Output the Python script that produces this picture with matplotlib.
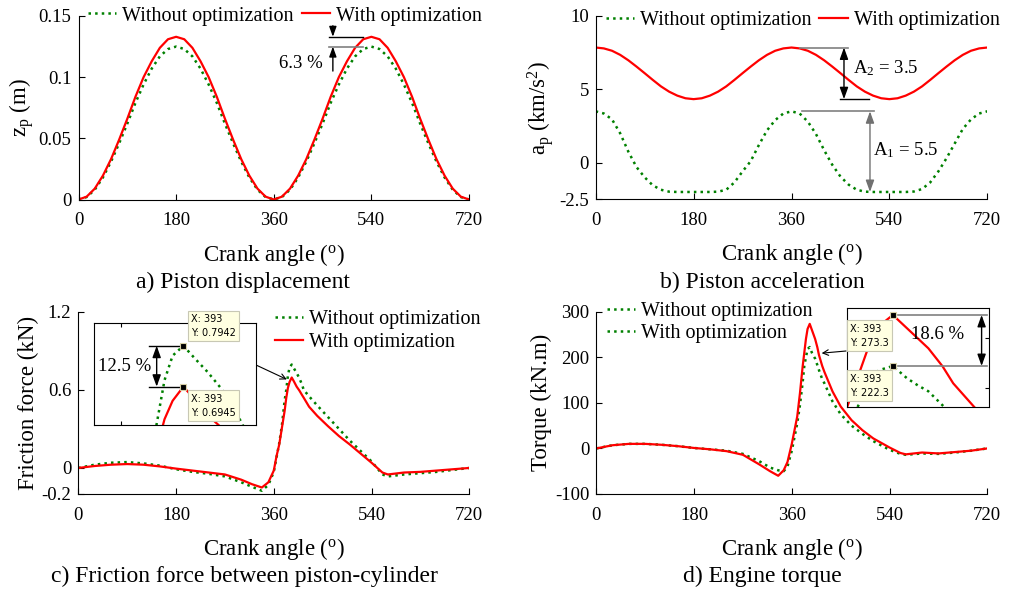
import numpy as np
import matplotlib
matplotlib.use("Agg")
import matplotlib.pyplot as plt

plt.rcParams['font.family'] = ['Liberation Serif', 'DejaVu Serif']
plt.rcParams['mathtext.fontset'] = 'custom'
plt.rcParams['mathtext.rm'] = 'Liberation Serif'
plt.rcParams['mathtext.it'] = 'Liberation Serif:italic'

RED = '#ff0000'
GREEN = '#008000'

# ---- a) piston displacement (m), every 15 deg over 0..360 ----
disp_angle = [0, 15, 30, 45, 60, 75, 90, 105, 120, 135, 150, 165, 180,
              195, 210, 225, 240, 255, 270, 285, 300, 315, 330, 345, 360,
              375, 390, 405, 420, 435, 450, 465, 480, 495, 510, 525, 540,
              555, 570, 585, 600, 615, 630, 645, 660, 675, 690, 705, 720]
disp_without = [0, 0.002, 0.008, 0.018, 0.031, 0.046, 0.062, 0.079, 0.094, 0.107, 0.117, 0.123, 0.125,
                0.123, 0.117, 0.107, 0.094, 0.079, 0.062, 0.046, 0.031, 0.018, 0.008, 0.002, 0,
                0.002, 0.008, 0.018, 0.031, 0.046, 0.062, 0.079, 0.094, 0.107, 0.117, 0.123, 0.125,
                0.123, 0.117, 0.107, 0.094, 0.079, 0.062, 0.046, 0.031, 0.018, 0.008, 0.002, 0]
disp_with = [0, 0.0023, 0.0089, 0.0195, 0.033, 0.049, 0.066, 0.084, 0.100, 0.113, 0.124, 0.131, 0.133,
             0.131, 0.124, 0.113, 0.100, 0.084, 0.066, 0.049, 0.033, 0.0195, 0.0089, 0.0023, 0,
             0.0023, 0.0089, 0.0195, 0.033, 0.049, 0.066, 0.084, 0.100, 0.113, 0.124, 0.131, 0.133,
             0.131, 0.124, 0.113, 0.100, 0.084, 0.066, 0.049, 0.033, 0.0195, 0.0089, 0.0023, 0]

# ---- b) piston acceleration (km/s^2) ----
acc_angle = disp_angle
acc_without = [3.5, 3.35, 2.95, 2.0, 0.75, -0.3, -1.0, -1.55, -1.85, -1.98, -2.0, -2.0, -2.0,
               -2.0, -2.0, -1.98, -1.85, -1.35, -0.6, 0.1, 1.2, 2.2, 2.9, 3.35, 3.5,
               3.35, 2.8, 1.95, 0.85, -0.15, -0.95, -1.5, -1.85, -1.98, -2.0, -2.0, -2.0,
               -2.0, -2.0, -1.97, -1.8, -1.35, -0.6, 0.3, 1.3, 2.3, 2.95, 3.35, 3.5]
acc_with = [7.85, 7.79, 7.63, 7.35, 6.98, 6.55, 6.1, 5.64, 5.2, 4.84, 4.57, 4.39, 4.33,
            4.39, 4.57, 4.84, 5.2, 5.64, 6.1, 6.55, 6.98, 7.35, 7.63, 7.79, 7.85,
            7.79, 7.63, 7.35, 6.98, 6.55, 6.1, 5.64, 5.2, 4.84, 4.57, 4.39, 4.33,
            4.39, 4.57, 4.84, 5.2, 5.64, 6.1, 6.55, 6.98, 7.35, 7.63, 7.79, 7.85]

# ---- c) friction force (kN) ----
fric_angle = [0, 30, 60, 90, 120, 150, 180, 210, 240, 270, 300, 320, 338, 350, 360, 365, 370, 375,
              380, 383, 386, 389, 393, 397, 402, 407, 412, 415, 425, 440, 460, 480, 500, 520, 540,
              560, 570, 600, 630, 660, 690, 720]
fric_without = [0.0, 0.025, 0.04, 0.045, 0.035, 0.018, -0.01, -0.03, -0.045, -0.065, -0.11, -0.145,
                -0.175, -0.13, -0.03, 0.08, 0.19, 0.33, 0.52, 0.60, 0.71, 0.77, 0.7942, 0.765, 0.73,
                0.69, 0.64, 0.60, 0.55, 0.48, 0.39, 0.30, 0.21, 0.13, 0.05, -0.05, -0.065, -0.05,
                -0.04, -0.03, -0.015, 0.0]
fric_with = [0.0, 0.015, 0.025, 0.03, 0.025, 0.012, -0.005, -0.02, -0.035, -0.05, -0.09, -0.125,
             -0.15, -0.11, -0.02, 0.09, 0.18, 0.31, 0.44, 0.54, 0.615, 0.66, 0.6945, 0.665, 0.625,
             0.595, 0.56, 0.54, 0.47, 0.40, 0.32, 0.245, 0.18, 0.11, 0.04, -0.035, -0.05, -0.035,
             -0.03, -0.02, -0.01, 0.0]

# ---- d) engine torque (kN.m) ----
torq_angle = [0, 30, 60, 90, 120, 150, 180, 210, 240, 270, 300, 320, 335, 345, 352, 360, 370, 375,
              380, 383, 386, 389, 393, 397, 400, 403, 407, 410, 416, 420, 435, 450, 470, 490, 510,
              540, 560, 570, 600, 630, 660, 690, 720]
torq_without = [0, 7, 10, 10, 8, 5, 1, -2, -5, -12, -28, -42, -48, -50, -40, -5, 55, 95,
                145, 181, 200, 218, 222.3, 210, 203, 197, 183, 172, 152, 143, 103, 75, 50, 32, 16,
                -3, -12, -14, -11, -12, -9, -5, 0]
torq_with = [0, 7, 10, 10, 8, 5, 1, -2, -6, -14, -35, -50, -60, -48, -30, 10, 70, 121,
             180, 210, 240, 262, 273.3, 260, 250, 240, 222, 205, 181, 168, 125, 92, 62, 40, 22,
             2, -10, -13, -9, -11, -8, -5, 0]

xticks = [0, 180, 360, 540, 720]
labels = ['Without optimization', 'With optimization']

W, H = 1011, 593
fig = plt.figure(figsize=(W / 100, H / 100), dpi=100)


def px_axes(x0, y0, x1, y1):
    # pixel box (left, top, right, bottom) -> figure axes
    return fig.add_axes([x0 / W, 1 - y1 / H, (x1 - x0) / W, (y1 - y0) / H])


def style(ax, yticks, ylabels, ylim):
    ax.set_xlim(0, 720)
    ax.set_ylim(*ylim)
    ax.set_xticks(xticks)
    ax.set_xticklabels([str(t) for t in xticks])
    ax.set_yticks(yticks)
    ax.set_yticklabels(ylabels)
    ax.spines['top'].set_visible(False)
    ax.spines['right'].set_visible(False)
    ax.tick_params(direction='in', length=4, labelsize=13.5, pad=5)
    ax.tick_params(axis='x', pad=9)
    ax.set_xlabel(r'Crank angle ($^{\rm o}$)', fontsize=16.5, labelpad=9)


def darrow(ax, x, y0, y1, color='black'):
    ax.annotate('', xy=(x, y1), xytext=(x, y0),
                arrowprops=dict(arrowstyle='<|-|>,head_length=0.5,head_width=0.18',
                                color=color, lw=1, shrinkA=0, shrinkB=0, mutation_scale=14))


def datatip(x, y, text):
    fig.text(x / W, 1 - y / H, text, fontsize=7, family='DejaVu Sans', va='center', ha='left',
             linespacing=1.5,
             bbox=dict(boxstyle='square,pad=0.35', fc='#ffffe1', ec='#c8c8b4', lw=0.8))


leg_kw = dict(frameon=False, fontsize=14.5, handlelength=1.4, handletextpad=0.3,
              borderpad=0, borderaxespad=0, columnspacing=0.4)

# ---------------- a ----------------
ax = px_axes(78.5, 16, 469, 199.5)
ax.plot(disp_angle, disp_without, ':', color=GREEN, lw=1.8, label=labels[0])
ax.plot(disp_angle, disp_with, '-', color=RED, lw=1.6, label=labels[1])
style(ax, [0, 0.05, 0.1, 0.15], ['0', '0.05', '0.1', '0.15'], (0, 0.15))
ax.set_ylabel(r'z$_{\rm p}$ (m)', fontsize=16.5, labelpad=2)
ax.legend(loc='center left', bbox_to_anchor=(0.024, 1.0), ncol=2, **leg_kw)
top, low = max(disp_with), max(disp_without)
ax.plot([462, 524], [top, top], color='black', lw=1)
ax.plot([462, 524], [low, low], color='#808080', lw=1.2)
ax.annotate('', xy=(469, top), xytext=(469, 0.142),
            arrowprops=dict(arrowstyle='-|>,head_length=0.5,head_width=0.18', color='black', lw=1,
                            shrinkA=0, shrinkB=0, mutation_scale=12))
ax.annotate('', xy=(469, low), xytext=(469, 0.105),
            arrowprops=dict(arrowstyle='-|>,head_length=0.5,head_width=0.18', color='black', lw=1,
                            shrinkA=0, shrinkB=0, mutation_scale=12))
ax.text(450, 0.111, '6.3 %', fontsize=13.5, ha='right', va='center')

# ---------------- b ----------------
ax = px_axes(595.7, 16, 987.3, 199.3)
ax.plot(acc_angle, acc_without, ':', color=GREEN, lw=1.8, label=labels[0])
ax.plot(acc_angle, acc_with, '-', color=RED, lw=1.6, label=labels[1])
style(ax, [-2.5, 0, 5, 10], ['-2.5', '0', '5', '10'], (-2.5, 10))
ax.set_ylabel(r'a$_{\rm p}$ (km/s$^{\rm 2}$)', fontsize=16.5, labelpad=2)
ax.legend(loc='center left', bbox_to_anchor=(0.0255, 0.978), ncol=2, **leg_kw)
rmax, rmin = max(acc_with), min(acc_with)
gmax, gmin = max(acc_without), min(acc_without)
ax.plot([376, 464], [rmax, rmax], color='#808080', lw=1.2)
ax.plot([449, 503], [rmin, rmin], color='black', lw=1)
darrow(ax, 456.5, rmax, rmin)
ax.text(473, 6.45, r'A$_{\rm 2}$ = 3.5', fontsize=13.5, va='center')
ax.plot([379, 512], [gmax, gmax], color='#808080', lw=1.2)
darrow(ax, 504.3, gmax, gmin, color='#707070')
ax.text(510, 0.85, r'A$_{\rm 1}$ = 5.5', fontsize=13.5, va='center')

# ---------------- c ----------------
axc = px_axes(78.3, 311.7, 469.3, 494)
axc.plot(fric_angle, fric_without, ':', color=GREEN, lw=1.8, label=labels[0])
axc.plot(fric_angle, fric_with, '-', color=RED, lw=1.6, label=labels[1])
style(axc, [-0.2, 0, 0.6, 1.2], ['-0.2', '0', '0.6', '1.2'], (-0.2, 1.2))
axc.set_ylabel('Friction force (kN)', fontsize=16.5, labelpad=2)
axc.legend(loc='center left', bbox_to_anchor=(0.503, 0.895), ncol=1, labelspacing=0.2,
           **leg_kw)
axc.annotate('', xy=(384, 0.68), xytext=(256 / W, 1 - 365 / H), textcoords='figure fraction',
             arrowprops=dict(arrowstyle='->', color='black', lw=0.8, shrinkA=0, shrinkB=0))

ins = px_axes(94.3, 323.3, 256.3, 425)
ins.plot(fric_angle, fric_without, ':', color=GREEN, lw=1.8)
ins.plot(fric_angle, fric_with, '-', color=RED, lw=1.6)
ins.set_xlim(360, 420)
ins.set_ylim(0.601, 0.849)
ins.set_xticks([370])
ins.set_yticks([])
ins.tick_params(direction='in', length=3, labelbottom=False, top=True)
i_g = fric_without.index(max(fric_without))
i_r = fric_with.index(max(fric_with))
gx, gy = fric_angle[i_g], fric_without[i_g]
rx, ry = fric_angle[i_r], fric_with[i_r]
ins.plot([380.3, gx], [gy, gy], color='black', lw=1)
ins.plot([380.3, rx], [ry, ry], color='black', lw=1)
darrow(ins, 383.1, gy, ry)
ins.text(371.4, 0.743, '12.5 %', fontsize=13.5, ha='center', va='center')
ins.plot([gx, rx], [gy, ry], 's', color='black', ms=5, mec='#d8d0a8', mew=0.8)
datatip(191, 326, 'X: %d\nY: %.4f' % (gx, gy))
datatip(191, 405.8, 'X: %d\nY: %.4f' % (rx, ry))

# ---------------- d ----------------
axd = px_axes(596.3, 311.7, 987.3, 494)
axd.plot(torq_angle, torq_without, ':', color=GREEN, lw=1.8, label=labels[0])
axd.plot(torq_angle, torq_with, '-', color=RED, lw=1.6)
# the legend of the original shows the same dotted green sample twice
axd.plot([], [], ':', color=GREEN, lw=1.8, label=labels[1])
style(axd, [-100, 0, 100, 200, 300], ['-100', '0', '100', '200', '300'], (-100, 300))
axd.set_ylabel('Torque (kN.m)', fontsize=16.5, labelpad=2)
axd.legend(loc='center left', bbox_to_anchor=(0.027, 0.941), ncol=1, labelspacing=0.15,
           **leg_kw)
axd.annotate('', xy=(415, 209), xytext=(846 / W, 1 - 351 / H), textcoords='figure fraction',
             arrowprops=dict(arrowstyle='->', color='black', lw=0.8, shrinkA=0, shrinkB=0))

ins = px_axes(846.7, 308.3, 988.7, 407.3)
ins.plot(torq_angle, torq_without, ':', color=GREEN, lw=1.8)
ins.plot(torq_angle, torq_with, '-', color=RED, lw=1.6)
ins.set_xlim(380, 420)
ins.set_ylim(181, 280)
ins.set_xticks([])
ins.set_yticks([200, 250])
ins.tick_params(direction='in', length=3, labelleft=False, right=True)
i_g = torq_without.index(max(torq_without))
i_r = torq_with.index(max(torq_with))
gx, gy = torq_angle[i_g], torq_without[i_g]
rx, ry = torq_angle[i_r], torq_with[i_r]
ins.plot([394.5, 419.5], [ry, ry], color='#808080', lw=1.2)
ins.plot([394.5, 419.5], [gy, gy], color='#808080', lw=1.2)
darrow(ins, 418, ry, gy)
ins.text(405.5, 254, '18.6 %', fontsize=13.5, ha='center', va='center')
ins.plot([gx, rx], [gy, ry], 's', color='black', ms=5, mec='#d8d0a8', mew=0.8)
datatip(850, 335.7, 'X: %d\nY: %.1f' % (rx, ry))
datatip(850, 385.7, 'X: %d\nY: %.1f' % (gx, gy))

# ---------------- captions ----------------
fig.text(243 / W, 1 - 282 / H, 'a) Piston displacement', fontsize=17, ha='center', va='center')
fig.text(762 / W, 1 - 282 / H, 'b) Piston acceleration', fontsize=17, ha='center', va='center')
fig.text(244 / W, 1 - 576.7 / H, 'c) Friction force between piston-cylinder', fontsize=17,
         ha='center', va='center')
fig.text(762 / W, 1 - 576.7 / H, 'd) Engine torque', fontsize=17, ha='center', va='center')

fig.savefig('out.png', dpi=100)
